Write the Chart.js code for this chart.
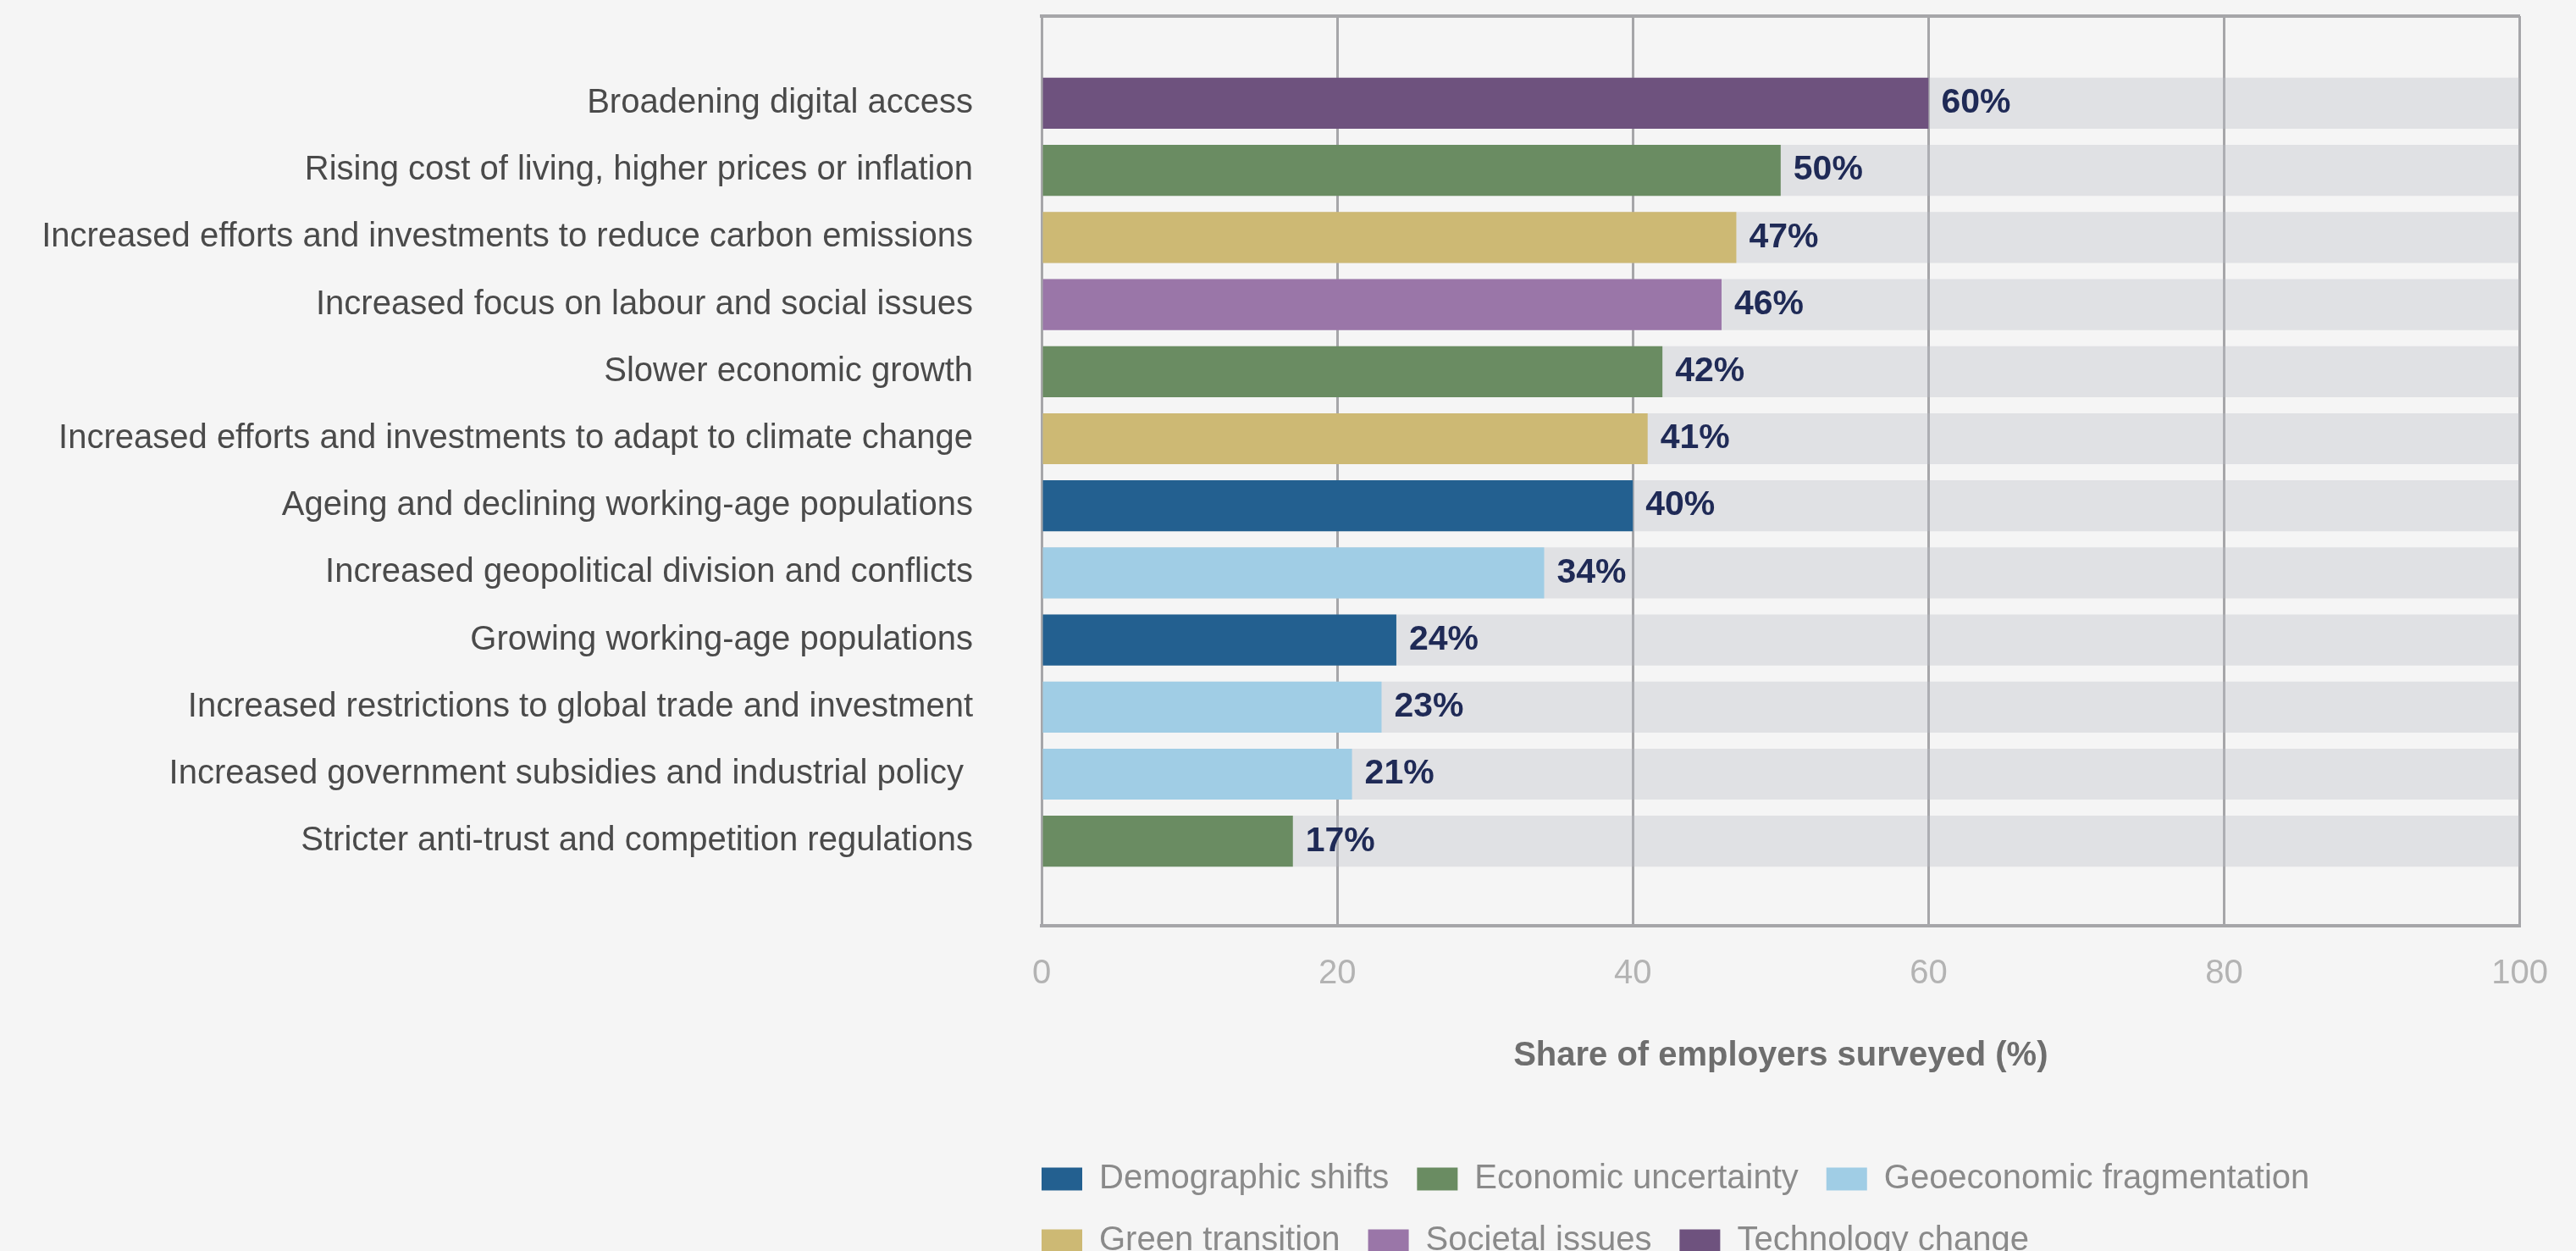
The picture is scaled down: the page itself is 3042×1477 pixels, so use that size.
<!DOCTYPE html>
<html>
<head>
<meta charset="utf-8">
<script src="https://cdn.jsdelivr.net/npm/chart.js@4.4.1/dist/chart.umd.min.js"></script>
<style>
  html, body { margin: 0; padding: 0; background: #f5f5f5; }
  #wrap { width: 3042px; height: 1477px; }
</style>
</head>
<body>
<div id="wrap"><canvas id="chart"></canvas></div>
<script>
// DATA
const factors = [
    'Broadening digital access',
    'Rising cost of living, higher prices or inflation',
    'Increased efforts and investments to reduce carbon emissions',
    'Increased focus on labour and social issues',
    'Slower economic growth',
    'Increased efforts and investments to adapt to climate change',
    'Ageing and declining working-age populations',
    'Increased geopolitical division and conflicts',
    'Growing working-age populations',
    'Increased restrictions to global trade and investment',
    'Increased government subsidies and industrial policy ',
    'Stricter anti-trust and competition regulations'
]
const shares = [60, 50, 47, 46, 42, 41, 40, 34, 24, 23, 21, 17]
const factorGroups = [
    'Technology change',
    'Economic uncertainty',
    'Green transition',
    'Societal issues',
    'Economic uncertainty',
    'Green transition',
    'Demographic shifts',
    'Geoeconomic fragmentation',
    'Demographic shifts',
    'Geoeconomic fragmentation',
    'Geoeconomic fragmentation',
    'Economic uncertainty'
]
const groupNames = ['Demographic shifts', 'Economic uncertainty', 'Geoeconomic fragmentation', 'Green transition', 'Societal issues', 'Technology change']
const groupColors = ['#236090', '#6a8c62', '#a0cde5', '#cdb974', '#9a76a8', '#6e527e']
const xTicks = [0, 20, 40, 60, 80, 100]
const fullShare = 100

const fontFamily = '"Liberation Sans", Arial, sans-serif'
Chart.defaults.font.family = fontFamily

const gridColor = '#a6a6a9'

// value labels next to each bar
const valueLabels = {
    id: 'valueLabels',
    afterDatasetsDraw(chart) {
        const ctx = chart.ctx
        const meta = chart.getDatasetMeta(0)
        ctx.save()
        ctx.font = 'bold 41px ' + fontFamily
        ctx.fillStyle = '#1f2a56'
        ctx.textAlign = 'left'
        ctx.textBaseline = 'middle'
        meta.data.forEach((bar, i) => {
            ctx.fillText(shares[i] + '%', bar.x + 15, bar.y)
        })
        ctx.restore()
    }
}

// legend under the plot, starting at the plot's left edge, three per row
const legendRows = {
    id: 'legendRows',
    afterLayout(chart) {
        const legend = chart.legend
        const pad = legend.options.labels.padding
        legend.left = chart.chartArea.left - pad
        legend.right = chart.chartArea.right
        legend.bottom = chart.height
    }
}

const data = {
    datasets: [{
        label: 'Share of employers surveyed',
        data: shares.map((v, i) => ({ x: v, y: i })),
        backgroundColor: factorGroups.map(g => groupColors[groupNames.indexOf(g)]),
        xAxisID: 'x',
        grouped: false,
        barPercentage: 0.76,
        categoryPercentage: 1
    }, {
        label: 'Total',
        data: shares.map((v, i) => ({ x: fullShare, y: i })),
        backgroundColor: 'rgba(185, 188, 199, 0.35)',
        xAxisID: 'x',
        grouped: false,
        barPercentage: 0.76,
        categoryPercentage: 1
    }]
}

const config = {
    type: 'bar',
    data: data,
    plugins: [valueLabels, legendRows],
    options: {
        indexAxis: 'y',
        responsive: true,
        maintainAspectRatio: false,
        animation: false,
        layout: {
            padding: { top: 19, right: 41, bottom: 55, left: 0 }
        },
        scales: {
            x: {
                position: 'bottom',
                min: 0,
                max: 100,
                afterBuildTicks: (scale) => { scale.ticks = xTicks.map(v => ({ value: v })) },
                ticks: {
                    padding: 33,
                    color: '#b3b3b3',
                    font: { size: 40 }
                },
                grid: { color: gridColor, lineWidth: 3, drawTicks: false },
                border: { display: true, color: gridColor, width: 4 },
                title: {
                    display: true,
                    text: 'Share of employers surveyed (%)',
                    color: '#6e6e6e',
                    font: { size: 40, weight: 'bold' },
                    padding: { top: 16, bottom: 68 }
                }
            },
            x2: {
                position: 'top',
                min: 0,
                max: 100,
                ticks: { display: false },
                grid: { display: false, drawTicks: false },
                border: { display: true, color: gridColor, width: 4 }
            },
            y: {
                type: 'linear',
                reverse: true,
                offset: false,
                min: -1.3,
                max: factors.length - 1 + 1.26,
                afterBuildTicks: (scale) => { scale.ticks = factors.map((f, i) => ({ value: i })) },
                afterFit: (scale) => {
                    scale.width = 1230
                    scale.paddingTop = 0
                    scale.paddingBottom = 0
                },
                ticks: {
                    callback: (v) => factors[v],
                    padding: 81,
                    color: '#4a4a4a',
                    font: { size: 40 }
                },
                grid: { display: false, drawTicks: false, offset: false },
                border: { display: false }
            }
        },
        plugins: {
            legend: {
                display: true,
                position: 'bottom',
                align: 'start',
                onClick: null,
                labels: {
                    boxWidth: 48,
                    boxHeight: 27,
                    padding: 33,
                    color: '#8a8a8a',
                    font: { size: 40 },
                    generateLabels: () => groupNames.map((g, i) => ({
                        text: g,
                        fillStyle: groupColors[i],
                        strokeStyle: groupColors[i],
                        lineWidth: 0,
                        hidden: false,
                        fontColor: '#8a8a8a'
                    }))
                }
            },
            tooltip: { enabled: true }
        }
    }
}

const chart = new Chart(document.getElementById('chart').getContext('2d'), config)
</script>
</body>
</html>
